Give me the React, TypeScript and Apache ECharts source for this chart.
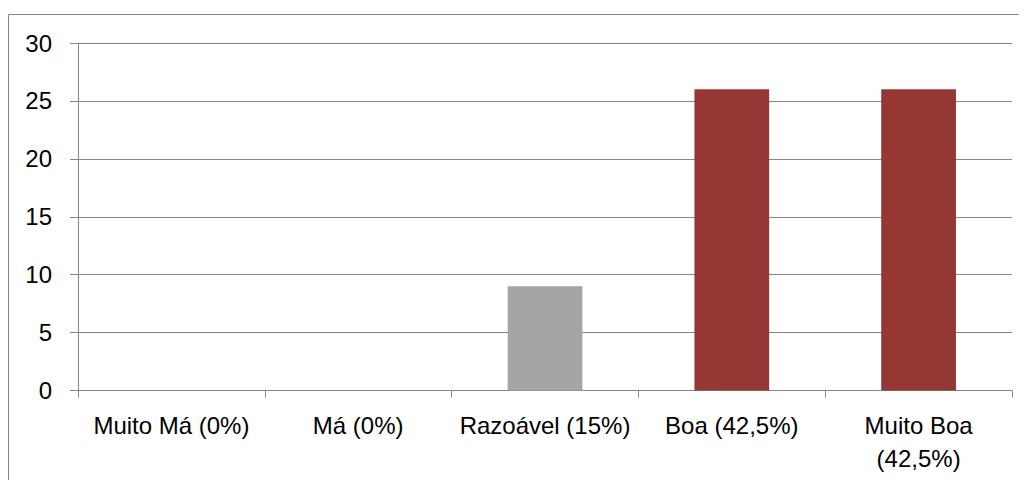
import React, { useEffect, useRef } from "react";
import * as echarts from "echarts";

const categories = ["Muito Má (0%)", "Má (0%)", "Razoável (15%)", "Boa (42,5%)", "Muito Boa (42,5%)"];
const values = [0, 0, 9, 26, 26];
const barColors = ["#A5A5A5", "#A5A5A5", "#A5A5A5", "#953735", "#953735"];
const yTicks = [0, 5, 10, 15, 20, 25, 30];

const FONT = "Liberation Sans";

function wrapLabel(v: string): string {
  if (v.length <= 15) return v;
  const i = v.lastIndexOf(" ");
  return v.slice(0, i) + "\n" + v.slice(i + 1);
}

export default function App() {
  const ref = useRef<HTMLDivElement>(null);
  useEffect(() => {
    if (!ref.current) return;
    const chart = echarts.init(ref.current, undefined, { renderer: "svg" });
    chart.setOption({
      animation: false,
      graphic: [
        {
          type: "rect",
          shape: { x: 0.5, y: 6.5, width: 1100, height: 600 },
          style: { fill: "none", stroke: "#868686", lineWidth: 1 },
          silent: true,
        },
      ],
      grid: { left: 70, top: 35, right: 15, bottom: 89.5, containLabel: false },
      xAxis: {
        type: "category",
        data: categories,
        boundaryGap: true,
        axisLine: { show: true, lineStyle: { color: "#868686", width: 1 } },
        axisTick: { show: true, length: 7, lineStyle: { color: "#868686" } },
        axisLabel: {
          color: "#000",
          fontFamily: FONT,
          fontSize: 24,
          margin: 18,
          lineHeight: 33,
          interval: 0,
          formatter: wrapLabel,
        },
      },
      yAxis: {
        type: "value",
        min: yTicks[0],
        max: yTicks[yTicks.length - 1],
        interval: 5,
        axisLine: { show: true, lineStyle: { color: "#868686", width: 1 } },
        axisTick: { show: true, length: 8, lineStyle: { color: "#868686" } },
        axisLabel: { color: "#000", fontFamily: FONT, fontSize: 24, margin: 26 },
        splitLine: { show: true, lineStyle: { color: "#868686", width: 1 } },
      },
      series: [
        {
          type: "bar",
          barWidth: "40%",
          data: values.map((v, i) => ({ value: v, itemStyle: { color: barColors[i] } })),
        },
      ],
    });
    return () => chart.dispose();
  }, []);
  return <div ref={ref} style={{ width: 1019, height: 472 }} />;
}
